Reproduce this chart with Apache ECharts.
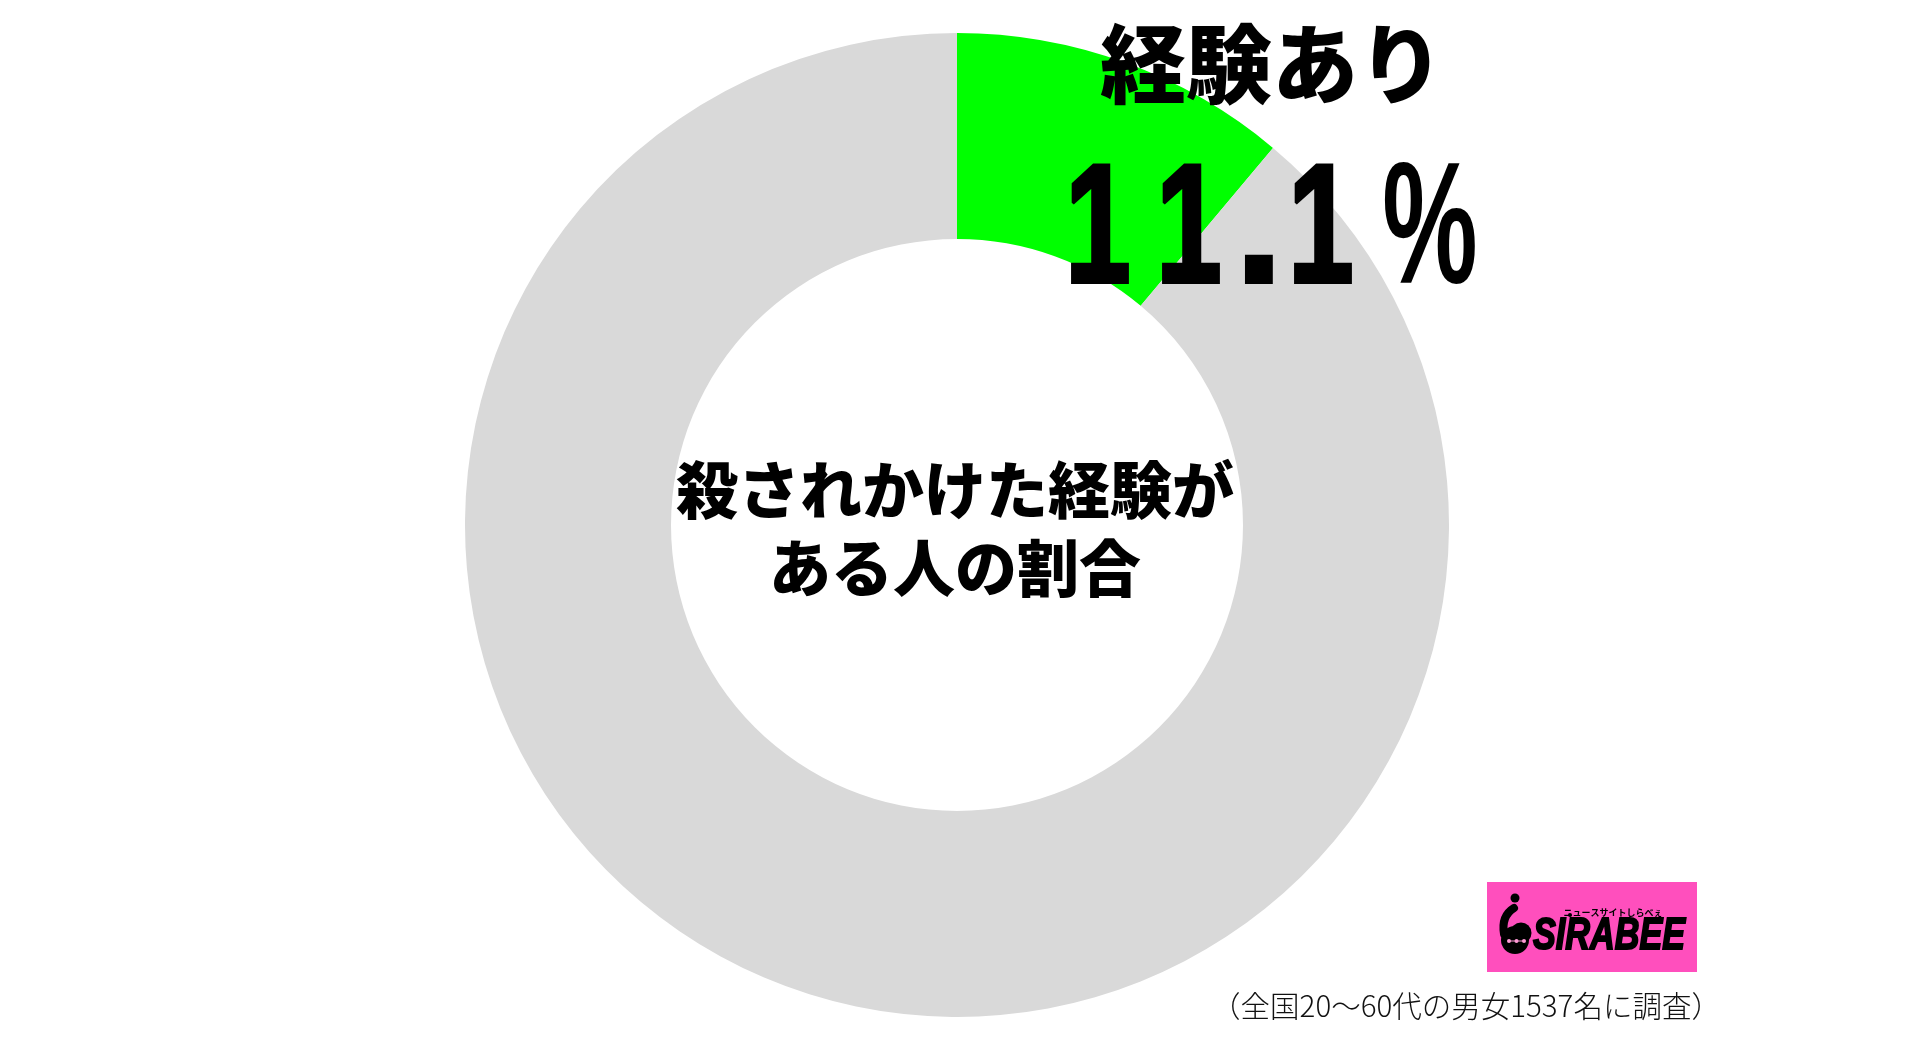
<!DOCTYPE html>
<html>
<head>
<meta charset="utf-8">
<script src="https://cdn.jsdelivr.net/npm/echarts@6/dist/echarts.min.js"></script>
<style>
  html, body { margin: 0; padding: 0; background: #fff; }
  #main { width: 1906px; height: 1048px; }
</style>
</head>
<body>
<div id="main"></div>
<script>
// データ
var categories = ['経験あり', '経験なし'];
var values = [11.1, 88.9];
var colors = ['#00ff00', '#d9d9d9'];
var centerTitle = ['殺されかけた経験が', 'ある人の割合'];
var note = '（全国20〜60代の男女1537名に調査）';

var jp = "'Noto Sans CJK JP', sans-serif";
var latin = '"Liberation Sans", Arial, sans-serif';

// 大きな数字は一文字ずつ並べる（細めの字形にするため）
var bigFont = 'bold 169px ' + latin;
var numChars = String(values[0]).split('');
var numGraphics = [];
var cx = 1098;
numChars.forEach(function (ch, i) {
    if (i > 0) cx += ch === '.' ? 70 : (numChars[i - 1] === '.' ? 62 : 91);
    numGraphics.push({
        type: 'text', x: cx, y: 235, z: 100, scaleX: ch === '.' ? 1 : 0.7,
        style: { text: ch, align: 'center', verticalAlign: 'middle', font: bigFont, fill: '#000',
                 stroke: '#000', lineWidth: 4 }
    });
});

var chart = echarts.init(document.getElementById('main'));
chart.setOption({
    backgroundColor: '#fff',
    animation: false,
    series: [{
        type: 'pie',
        center: [957, 525],
        radius: [286, 492],
        startAngle: 90,
        clockwise: true,
        silent: true,
        z: 1,
        label: { show: false },
        labelLine: { show: false },
        itemStyle: { borderWidth: 0 },
        data: categories.map(function (c, i) {
            return { name: c, value: values[i], itemStyle: { color: colors[i] } };
        })
    }],
    graphic: [
        // 中央の見出し
        {
            type: 'text', x: 955, y: 529, z: 100,
            style: {
                text: centerTitle.join('\n'),
                align: 'center', verticalAlign: 'middle',
                font: '900 62px ' + jp, lineHeight: 78, fill: '#000'
            }
        },
        // 経験あり
        {
            type: 'text', x: 1272, y: 64, z: 100,
            style: {
                text: categories[0],
                align: 'center', verticalAlign: 'middle',
                font: '900 86px ' + jp, fill: '#000'
            }
        },
        // %
        {
            type: 'text', x: 1430, y: 235, z: 100, scaleX: 0.62,
            style: {
                text: '%',
                align: 'center', verticalAlign: 'middle',
                font: 'bold 173px ' + latin, fill: '#000'
            }
        },
        // 注記
        {
            type: 'text', x: 1466, y: 1006, z: 100,
            style: {
                text: note,
                align: 'center', verticalAlign: 'middle',
                font: '300 29.5px ' + jp, fill: '#111'
            }
        },
        // ロゴ
        {
            type: 'group', x: 1487, y: 882, z: 100,
            children: [
                { type: 'rect', shape: { x: 0, y: 0, width: 210, height: 90 }, style: { fill: '#ff4fbd' } },
                { type: 'circle', shape: { cx: 28, cy: 16, r: 4.5 }, style: { fill: '#000' } },
                { type: 'bezierCurve', shape: { x1: 27, y1: 26, cpx1: 14, cpy1: 34, x2: 17, y2: 52 },
                  style: { fill: null, stroke: '#000', lineWidth: 8, lineCap: 'round' } },
                { type: 'circle', shape: { cx: 28, cy: 58, r: 14 }, style: { fill: '#000' } },
                { type: 'circle', shape: { cx: 34, cy: 51, r: 10.5 }, style: { fill: '#000' } },
                { type: 'line', shape: { x1: 22, y1: 59, x2: 37, y2: 59 }, style: { stroke: '#ff9ad6', lineWidth: 1 } },
                { type: 'circle', shape: { cx: 22, cy: 59, r: 2 }, style: { fill: '#ff9ad6' } },
                { type: 'circle', shape: { cx: 29.5, cy: 59, r: 2 }, style: { fill: '#ff9ad6' } },
                { type: 'circle', shape: { cx: 37, cy: 59, r: 2 }, style: { fill: '#ff9ad6' } },
                { type: 'text', x: 122, y: 55, scaleX: 0.76,
                  style: { text: 'SIRABEE', align: 'center', verticalAlign: 'middle',
                           font: 'italic bold 45px ' + latin, fill: '#000',
                           stroke: '#000', lineWidth: 2 } },
                { type: 'circle', shape: { cx: 83, cy: 33, r: 2 }, style: { fill: '#000' } },
                { type: 'text', x: 126, y: 31,
                  style: { text: 'ニュースサイトしらべぇ', align: 'center', verticalAlign: 'middle',
                           font: 'bold 9px ' + jp, fill: '#000' } }
            ]
        }
    ].concat(numGraphics)
});
</script>
</body>
</html>
